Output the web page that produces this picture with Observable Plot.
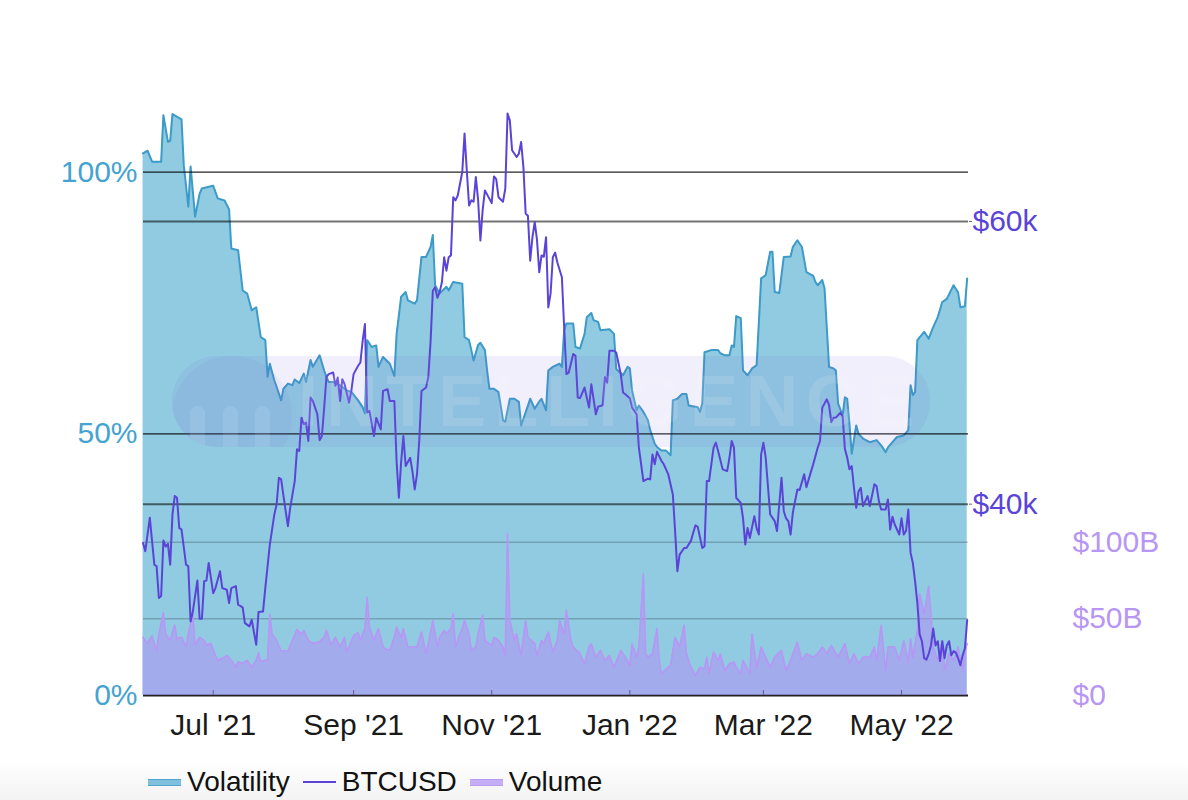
<!DOCTYPE html>
<html>
<head>
<meta charset="utf-8">
<script src="https://cdn.jsdelivr.net/npm/d3@7"></script>
<script src="https://cdn.jsdelivr.net/npm/@observablehq/plot@0.6"></script>
<style>
  html, body { margin: 0; padding: 0; background: #fff; overflow: hidden; }
  #wrap { position: relative; width: 1188px; height: 800px; font-family: "Liberation Sans", Arial, Helvetica, sans-serif; }
  #wrap svg { position: absolute; left: 0; top: 0; }
  #fade { position: absolute; left: 0; top: 760px; width: 1188px; height: 40px; background: linear-gradient(to bottom, #ffffff, #f3f3f3); }
  #legend { position: absolute; left: 148px; top: 767px; display: flex; align-items: center; font-size: 28px; line-height: 30px; color: #111; }
  #legend .item { display: flex; align-items: center; margin-right: 13px; }
  #legend .sw { width: 33px; margin-right: 6px; }
  #wm { position: absolute; left: 172px; top: 356px; width: 758px; height: 91px; border-radius: 45px; background: rgba(120,100,220,0.10); pointer-events: none; overflow: hidden; }
  #wm .circ { position: absolute; left: 0; top: 0; width: 120px; height: 120px; border-radius: 60px; background: rgba(120,100,220,0.06); }
  #wm .bar { position: absolute; top: 50px; width: 15px; height: 50px; border-radius: 8px; background: rgba(255,255,255,0.10); }
  #wm .txt { position: absolute; left: 126px; top: 9px; font-size: 72px; font-weight: bold; letter-spacing: 8px; color: rgba(255,255,255,0.12); line-height: 72px; }
</style>
</head>
<body>
<div id="wrap"><div id="fade"></div></div>
<script>
// ---------- data ----------
const volatility = [
["2021-05-31",103.6],["2021-06-02",104.1],["2021-06-04",102],["2021-06-08",102],["2021-06-09",110.9],["2021-06-11",105.8],["2021-06-12",106],["2021-06-13",111.1],["2021-06-17",110.1],["2021-06-18",101.3],["2021-06-20",93.4],["2021-06-21",101.1],["2021-06-23",91.5],["2021-06-25",95.9],["2021-06-26",96.9],["2021-06-30",97.3],["2021-07-01",97.4],["2021-07-03",95],["2021-07-06",94.6],["2021-07-08",92.9],["2021-07-09",85.4],["2021-07-12",85.1],["2021-07-14",77.4],["2021-07-16",76.8],["2021-07-18",73.6],["2021-07-20",74.2],["2021-07-22",68.5],["2021-07-24",67.9],["2021-07-25",60.9],["2021-07-26",63.4],["2021-07-28",60.2],["2021-07-29",59],["2021-07-31",56.4],["2021-08-01",58.6],["2021-08-03",59.6],["2021-08-05",59.3],["2021-08-06",60.4],["2021-08-08",59.7],["2021-08-10",61.5],["2021-08-11",59.9],["2021-08-13",64.1],["2021-08-14",62.8],["2021-08-17",65],["2021-08-19",62.1],["2021-08-20",60.9],["2021-08-21",59.9],["2021-08-23",59.9],["2021-08-26",59.3],["2021-08-29",58.3],["2021-08-31",58],["2021-09-03",56.4],["2021-09-05",55.1],["2021-09-06",53.9],["2021-09-07",67.9],["2021-09-09",66.6],["2021-09-11",66.9],["2021-09-12",62.8],["2021-09-14",64.7],["2021-09-17",63.4],["2021-09-19",61],["2021-09-20",69.1],["2021-09-22",76.2],["2021-09-24",77.1],["2021-09-25",75.5],["2021-09-28",74.9],["2021-09-29",75.5],["2021-10-01",83.8],["2021-10-03",83.8],["2021-10-05",85.7],["2021-10-06",88],["2021-10-07",78.4],["2021-10-09",76.8],["2021-10-12",78.1],["2021-10-13",77.4],["2021-10-15",79],["2021-10-19",78.7],["2021-10-20",68.5],["2021-10-22",67.9],["2021-10-23",66],["2021-10-24",64],["2021-10-26",67],["2021-10-27",67.4],["2021-10-29",66],["2021-10-30",62],["2021-10-31",58.6],["2021-11-02",58.6],["2021-11-04",58],["2021-11-06",52.6],["2021-11-07",52.3],["2021-11-09",56.7],["2021-11-11",56.7],["2021-11-13",56.1],["2021-11-14",51.6],["2021-11-17",55.4],["2021-11-18",56.7],["2021-11-20",54.8],["2021-11-22",56.2],["2021-11-23",56.7],["2021-11-25",54.5],["2021-11-26",62.1],["2021-11-28",62.8],["2021-12-01",63.4],["2021-12-02",62.8],["2021-12-03",69.8],["2021-12-04",71.1],["2021-12-07",71.1],["2021-12-08",66.6],["2021-12-10",66.3],["2021-12-12",69.1],["2021-12-13",72.3],["2021-12-15",73.1],["2021-12-16",71.7],["2021-12-18",71.4],["2021-12-19",69.8],["2021-12-23",70],["2021-12-25",69.1],["2021-12-26",62.4],["2021-12-29",61.2],["2021-12-31",62.8],["2022-01-01",62.5],["2022-01-02",58.3],["2022-01-04",54.5],["2022-01-05",55.4],["2022-01-07",54.2],["2022-01-09",52.6],["2022-01-10",50.7],["2022-01-12",48.1],["2022-01-13",47.5],["2022-01-15",46.8],["2022-01-17",46.8],["2022-01-19",45.9],["2022-01-20",56.4],["2022-01-22",56.7],["2022-01-24",57.6],["2022-01-26",57.6],["2022-01-27",55.4],["2022-01-31",55.1],["2022-02-01",54.2],["2022-02-02",55.8],["2022-02-03",65.6],["2022-02-06",66],["2022-02-09",66],["2022-02-10",65.4],["2022-02-12",65],["2022-02-14",65],["2022-02-15",66.9],["2022-02-16",66.6],["2022-02-17",72.5],["2022-02-19",72.1],["2022-02-20",62.1],["2022-02-22",61.2],["2022-02-24",62.5],["2022-02-26",63.1],["2022-02-28",79.7],["2022-03-02",80.3],["2022-03-04",84.8],["2022-03-05",84.8],["2022-03-06",77.1],["2022-03-08",76.9],["2022-03-10",83.8],["2022-03-13",83.9],["2022-03-14",85.7],["2022-03-16",87],["2022-03-18",85.7],["2022-03-20",80.9],["2022-03-23",80.2],["2022-03-24",79],["2022-03-25",78.4],["2022-03-27",79.4],["2022-03-28",77.8],["2022-03-30",62.8],["2022-04-01",62.5],["2022-04-02",62.1],["2022-04-03",55.8],["2022-04-05",53.5],["2022-04-06",57],["2022-04-07",56.7],["2022-04-08",51.9],["2022-04-09",46.2],["2022-04-11",51.6],["2022-04-12",50],["2022-04-14",49.1],["2022-04-17",48.4],["2022-04-20",48.8],["2022-04-22",47.8],["2022-04-24",46.5],["2022-04-25",47.4],["2022-04-27",48.4],["2022-04-29",49.4],["2022-05-02",49.7],["2022-05-04",50.7],["2022-05-05",59.3],["2022-05-06",57.4],["2022-05-07",58],["2022-05-08",67.9],["2022-05-11",69.5],["2022-05-13",68.2],["2022-05-15",70.4],["2022-05-17",72.3],["2022-05-19",75.2],["2022-05-21",75.8],["2022-05-24",78.4],["2022-05-26",77],["2022-05-27",74.2],["2022-05-29",74.4],["2022-05-30",79.7]
];

// BTCUSD price, thousands of dollars
const btcusd = [
["2021-05-31",37.25],["2021-06-01",36.67],["2021-06-03",39.03],["2021-06-05",35.72],["2021-06-06",35.6],["2021-06-07",33.36],["2021-06-08",33.5],["2021-06-09",37.43],["2021-06-10",37.0],["2021-06-11",37.19],["2021-06-12",35.72],["2021-06-13",39.27],["2021-06-14",40.57],["2021-06-15",40.45],["2021-06-16",38.32],["2021-06-17",38.2],["2021-06-19",35.72],["2021-06-20",35.6],["2021-06-21",31.7],["2021-06-22",32.41],["2021-06-24",34.59],["2021-06-25",31.89],["2021-06-26",31.89],["2021-06-27",34.54],["2021-06-28",34.59],["2021-06-29",35.84],["2021-07-01",33.71],["2021-07-02",34.06],["2021-07-04",35.25],["2021-07-05",34.06],["2021-07-07",33.94],["2021-07-08",33.0],["2021-07-09",34.06],["2021-07-11",34.2],["2021-07-12",32.89],["2021-07-14",32.7],["2021-07-15",31.58],["2021-07-17",31.35],["2021-07-18",31.82],["2021-07-20",30.05],["2021-07-21",32.36],["2021-07-23",32.4],["2021-07-24",34.06],["2021-07-26",37.14],["2021-07-28",39.27],["2021-07-29",39.98],["2021-07-30",41.87],["2021-07-31",41.75],["2021-08-02",39.5],["2021-08-03",38.44],["2021-08-04",39.74],["2021-08-06",41.63],["2021-08-07",43.88],["2021-08-08",43.76],["2021-08-09",46.12],["2021-08-10",45.65],["2021-08-11",45.77],["2021-08-12",44.47],["2021-08-13",47.54],["2021-08-14",47.3],["2021-08-16",46.36],["2021-08-17",44.52],["2021-08-18",44.82],["2021-08-19",46.8],["2021-08-20",49.0],["2021-08-21",49.2],["2021-08-23",49.31],["2021-08-24",48.37],["2021-08-25",48.96],["2021-08-26",47.3],["2021-08-27",48.84],["2021-08-28",48.5],["2021-08-30",47.18],["2021-08-31",48.01],["2021-09-01",49.2],["2021-09-03",49.79],["2021-09-04",50.02],["2021-09-05",51.56],["2021-09-06",52.74],["2021-09-07",46.48],["2021-09-08",46.6],["2021-09-10",44.82],["2021-09-11",46.1],["2021-09-13",45.29],["2021-09-14",48.01],["2021-09-16",48.13],["2021-09-17",47.3],["2021-09-19",47.3],["2021-09-20",43.0],["2021-09-21",40.45],["2021-09-22",43.0],["2021-09-23",44.82],["2021-09-24",42.7],["2021-09-26",43.28],["2021-09-27",42.3],["2021-09-28",41.04],["2021-09-29",42.1],["2021-09-30",44.5],["2021-10-01",48.0],["2021-10-03",48.25],["2021-10-04",49.0],["2021-10-05",51.5],["2021-10-06",55.1],["2021-10-07",55.34],["2021-10-08",54.6],["2021-10-09",55.0],["2021-10-10",55.7],["2021-10-11",57.47],["2021-10-12",56.52],["2021-10-13",57.47],["2021-10-14",57.6],["2021-10-15",61.72],["2021-10-16",61.49],["2021-10-17",61.84],["2021-10-19",63.5],["2021-10-20",66.22],["2021-10-21",63.6],["2021-10-22",61.13],["2021-10-23",61.5],["2021-10-24",61.4],["2021-10-25",63.14],["2021-10-26",61.5],["2021-10-27",58.65],["2021-10-28",60.8],["2021-10-29",62.2],["2021-10-30",61.9],["2021-10-31",61.6],["2021-11-01",61.3],["2021-11-02",63.19],["2021-11-03",63.0],["2021-11-04",61.72],["2021-11-06",61.4],["2021-11-07",62.32],["2021-11-08",67.64],["2021-11-09",67.16],["2021-11-10",65.04],["2021-11-12",64.56],["2021-11-13",64.8],["2021-11-14",65.62],["2021-11-15",63.85],["2021-11-16",60.55],["2021-11-17",60.4],["2021-11-18",57.23],["2021-11-19",58.89],["2021-11-20",59.95],["2021-11-21",58.7],["2021-11-22",56.4],["2021-11-23",57.6],["2021-11-24",57.5],["2021-11-25",58.89],["2021-11-26",53.92],["2021-11-27",54.9],["2021-11-28",57.47],["2021-11-29",57.8],["2021-11-30",57.1],["2021-12-02",56.05],["2021-12-03",52.5],["2021-12-04",49.2],["2021-12-05",49.3],["2021-12-07",50.62],["2021-12-08",50.5],["2021-12-09",47.54],["2021-12-10",47.5],["2021-12-12",48.25],["2021-12-14",46.83],["2021-12-15",48.49],["2021-12-17",46.36],["2021-12-18",46.9],["2021-12-20",47.0],["2021-12-21",49.0],["2021-12-22",48.6],["2021-12-23",50.85],["2021-12-25",50.85],["2021-12-26",50.73],["2021-12-28",49.2],["2021-12-29",47.9],["2021-12-30",47.78],["2022-01-01",47.5],["2022-01-02",46.83],["2022-01-04",46.36],["2022-01-05",44.0],["2022-01-06",42.82],["2022-01-07",41.63],["2022-01-09",41.8],["2022-01-10",41.75],["2022-01-11",43.52],["2022-01-12",42.82],["2022-01-13",43.7],["2022-01-15",43.05],["2022-01-16",42.82],["2022-01-18",42.1],["2022-01-20",40.68],["2022-01-21",38.09],["2022-01-22",35.25],["2022-01-23",36.43],["2022-01-25",36.9],["2022-01-26",36.9],["2022-01-28",37.4],["2022-01-29",37.97],["2022-01-30",38.5],["2022-01-31",38.4],["2022-02-02",36.9],["2022-02-03",37.02],["2022-02-04",41.63],["2022-02-05",41.63],["2022-02-07",44.0],["2022-02-08",44.35],["2022-02-09",43.76],["2022-02-11",42.46],["2022-02-13",42.34],["2022-02-14",43.28],["2022-02-15",44.47],["2022-02-16",44.0],["2022-02-17",40.45],["2022-02-19",40.09],["2022-02-20",39.0],["2022-02-21",37.14],["2022-02-22",38.32],["2022-02-23",37.6],["2022-02-25",39.15],["2022-02-26",38.3],["2022-02-27",37.85],["2022-02-28",43.52],["2022-03-01",44.35],["2022-03-02",43.3],["2022-03-04",39.27],["2022-03-06",38.8],["2022-03-07",38.09],["2022-03-09",41.87],["2022-03-10",39.5],["2022-03-11",39.0],["2022-03-12",38.8],["2022-03-13",37.85],["2022-03-14",39.4],["2022-03-16",41.04],["2022-03-17",41.0],["2022-03-19",42.11],["2022-03-20",41.2],["2022-03-22",42.3],["2022-03-23",42.82],["2022-03-25",44.0],["2022-03-26",44.47],["2022-03-27",46.83],["2022-03-29",47.42],["2022-03-30",47.0],["2022-03-31",45.8],["2022-04-01",46.12],["2022-04-02",46.12],["2022-04-04",46.48],["2022-04-05",46.2],["2022-04-06",43.9],["2022-04-07",43.3],["2022-04-08",42.46],["2022-04-09",42.7],["2022-04-10",41.16],["2022-04-11",39.74],["2022-04-12",40.9],["2022-04-13",41.16],["2022-04-14",39.86],["2022-04-16",40.57],["2022-04-17",39.86],["2022-04-19",41.4],["2022-04-20",41.28],["2022-04-21",40.22],["2022-04-22",39.62],["2022-04-24",39.62],["2022-04-25",40.33],["2022-04-26",38.2],["2022-04-27",39.1],["2022-04-28",38.56],["2022-04-30",37.85],["2022-05-01",39.0],["2022-05-02",37.85],["2022-05-03",38.1],["2022-05-04",39.62],["2022-05-05",36.55],["2022-05-06",35.84],["2022-05-07",34.54],["2022-05-08",33.0],["2022-05-09",30.8],["2022-05-10",30.3],["2022-05-11",29.1],["2022-05-12",29.0],["2022-05-13",29.4],["2022-05-14",30.0],["2022-05-15",31.2],["2022-05-16",30.0],["2022-05-17",30.3],["2022-05-18",28.9],["2022-05-19",30.3],["2022-05-20",29.1],["2022-05-21",30.0],["2022-05-22",30.3],["2022-05-23",29.3],["2022-05-24",29.6],["2022-05-25",29.5],["2022-05-26",29.1],["2022-05-27",28.6],["2022-05-28",29.3],["2022-05-29",29.8],["2022-05-30",31.8]
];

// Volume, billions of dollars
const volume = [
["2021-05-31",38],["2021-06-02",34],["2021-06-04",39],["2021-06-06",29],["2021-06-07",40],["2021-06-09",54],["2021-06-10",40],["2021-06-12",36],["2021-06-14",46],["2021-06-15",37],["2021-06-17",38],["2021-06-19",32],["2021-06-20",40],["2021-06-22",53],["2021-06-23",33],["2021-06-25",38],["2021-06-27",36],["2021-06-28",33],["2021-06-30",34],["2021-07-02",26],["2021-07-03",23],["2021-07-06",25],["2021-07-07",26],["2021-07-09",23],["2021-07-11",18.5],["2021-07-12",22],["2021-07-14",21],["2021-07-16",23],["2021-07-18",18.5],["2021-07-20",23],["2021-07-21",28],["2021-07-22",22],["2021-07-24",23],["2021-07-25",23],["2021-07-26",53],["2021-07-27",40],["2021-07-29",36],["2021-07-31",29],["2021-08-03",29],["2021-08-05",36],["2021-08-07",43],["2021-08-09",40],["2021-08-10",42.5],["2021-08-12",36],["2021-08-14",34],["2021-08-17",35],["2021-08-19",38],["2021-08-20",42.5],["2021-08-22",33],["2021-08-24",38],["2021-08-26",31.6],["2021-08-28",38],["2021-08-29",28],["2021-09-01",39],["2021-09-03",41],["2021-09-04",36],["2021-09-06",43.6],["2021-09-07",64],["2021-09-08",44.6],["2021-09-10",36],["2021-09-12",43.6],["2021-09-14",31.6],["2021-09-15",30.5],["2021-09-17",29.4],["2021-09-19",38],["2021-09-20",44.6],["2021-09-22",38],["2021-09-23",43.6],["2021-09-25",31.6],["2021-09-27",31.6],["2021-09-29",31.6],["2021-10-01",41.4],["2021-10-03",27.3],["2021-10-04",33.8],["2021-10-06",49],["2021-10-08",31.6],["2021-10-09",38],["2021-10-11",42.5],["2021-10-12",40.3],["2021-10-14",43.6],["2021-10-15",53.4],["2021-10-16",31.6],["2021-10-18",40.3],["2021-10-19",43.6],["2021-10-20",49],["2021-10-22",40.3],["2021-10-23",29.4],["2021-10-25",31.6],["2021-10-26",40.3],["2021-10-28",52.3],["2021-10-29",35.9],["2021-11-01",32.7],["2021-11-02",38],["2021-11-04",36],["2021-11-06",31.6],["2021-11-07",26],["2021-11-08",105.7],["2021-11-09",49],["2021-11-11",36],["2021-11-12",40.3],["2021-11-14",26],["2021-11-16",49],["2021-11-17",38],["2021-11-20",33.8],["2021-11-21",26],["2021-11-23",36],["2021-11-24",33.8],["2021-11-26",41.4],["2021-11-28",28.3],["2021-11-30",36],["2021-12-01",49],["2021-12-03",40.3],["2021-12-04",55.6],["2021-12-06",36],["2021-12-07",31.6],["2021-12-10",27.3],["2021-12-12",20.7],["2021-12-14",31.6],["2021-12-15",33.8],["2021-12-17",25],["2021-12-19",29.4],["2021-12-21",22.9],["2021-12-23",26.1],["2021-12-25",18.5],["2021-12-28",29.4],["2021-12-30",25],["2022-01-01",19.6],["2022-01-02",33.8],["2022-01-04",25],["2022-01-05",31.6],["2022-01-07",79.5],["2022-01-08",27.3],["2022-01-09",25],["2022-01-11",27.3],["2022-01-13",43.6],["2022-01-14",22.9],["2022-01-15",14.2],["2022-01-18",18.5],["2022-01-19",19.6],["2022-01-21",38],["2022-01-23",31.6],["2022-01-25",45.8],["2022-01-26",27.3],["2022-01-28",18.5],["2022-01-30",13.1],["2022-02-01",18.5],["2022-02-03",17.5],["2022-02-04",25],["2022-02-05",14.5],["2022-02-07",28.3],["2022-02-09",22.9],["2022-02-10",27],["2022-02-12",16.3],["2022-02-14",20.7],["2022-02-16",21.8],["2022-02-17",18.5],["2022-02-19",14.2],["2022-02-20",22.9],["2022-02-23",14.2],["2022-02-24",40.3],["2022-02-26",18.5],["2022-02-28",31.6],["2022-03-02",25],["2022-03-04",18.5],["2022-03-06",25],["2022-03-09",29.4],["2022-03-11",16.3],["2022-03-13",22.9],["2022-03-16",34.8],["2022-03-18",22.9],["2022-03-20",27.3],["2022-03-23",25],["2022-03-25",27.3],["2022-03-27",31.6],["2022-03-29",27.3],["2022-03-31",32.7],["2022-04-03",25],["2022-04-06",33.8],["2022-04-08",20.7],["2022-04-10",27.3],["2022-04-12",20.7],["2022-04-14",25],["2022-04-17",25],["2022-04-19",31.6],["2022-04-20",22.9],["2022-04-22",45.8],["2022-04-24",16.3],["2022-04-25",31.6],["2022-04-28",31.6],["2022-04-30",22.9],["2022-05-02",35.9],["2022-05-04",21.8],["2022-05-05",37],["2022-05-06",25],["2022-05-08",42.5],["2022-05-09",66.5],["2022-05-11",53.4],["2022-05-13",71.2],["2022-05-14",53.4],["2022-05-15",31.6],["2022-05-17",22.9],["2022-05-19",35.9],["2022-05-20",16.3],["2022-05-22",27.3],["2022-05-24",22.9],["2022-05-26",31.6],["2022-05-28",16.3],["2022-05-29",29.4],["2022-05-30",33.8]
];

const xTicks = ["2021-07-01","2021-09-01","2021-11-01","2022-01-01","2022-03-01","2022-05-01"];
const volTicks = [0, 50, 100];          // %
const btcTicks = [40, 60];              // $k
const volumeTicks = [0, 50, 100];       // $B
const legendItems = ["Volatility", "BTCUSD", "Volume"];

// ---------- layout ----------
const FONT = '"Liberation Sans", Arial, Helvetica, sans-serif';
const W = 1188, H = 745, ML = 143, MR = 220, MT = 100, MB = 50;
const xDomain = [new Date("2021-05-31T05:00Z"), new Date("2022-05-30T14:00Z")];
const toRows = arr => arr.map(([d, v]) => ({date: new Date(d + "T00:00Z"), v}));
const volRows = toRows(volatility), btcRows = toRows(btcusd), volumeRows = toRows(volume);
const tickDates = xTicks.map(d => new Date(d + "T00:00Z"));
const fmtX = d3.utcFormat("%b '%y");
const base = {width: W, height: H, marginLeft: ML, marginRight: MR, marginTop: MT, marginBottom: MB,
  style: {fontFamily: FONT, background: "transparent", overflow: "visible"}};

const C_VOL = "#3c9bc8", C_BTC = "#5a44d8", C_VOLU = "#b796f5";
const FS = 30;

const p1 = Plot.plot({
  ...base,
  x: {type: "utc", domain: xDomain},
  y: {domain: [0, 113.7]},
  marks: [
    Plot.areaY(volRows, {x: "date", y: "v", fill: "#91cbe1"}),
    Plot.lineY(volRows, {x: "date", y: "v", stroke: C_VOL, strokeWidth: 2}),
    Plot.gridY(volTicks.filter(t => t > 0), {stroke: "#000", strokeOpacity: 0.85, strokeWidth: 1.3}),
    Plot.axisY(volTicks, {tickSize: 0, tickPadding: 6, tickFormat: d => d + "%", fill: "#45a3d1", fontSize: FS, label: null}),
    Plot.axisX(tickDates, {tickSize: -5, tickFormat: () => "", stroke: "#222", label: null}),
    Plot.axisX(tickDates, {tickSize: 0, tickPadding: 18, tickFormat: fmtX, fill: "#1a1a1a", fontSize: FS, label: null}),
    Plot.ruleY([0], {stroke: "#222", strokeWidth: 2})
  ]
});

const p2 = Plot.plot({
  ...base,
  x: {type: "utc", domain: xDomain, axis: null},
  y: {domain: [0, 388.1], axis: null},
  marks: [
    Plot.gridY(volumeTicks.filter(t => t > 0), {stroke: "#000", strokeOpacity: 0.3, strokeWidth: 1}),
    Plot.areaY(volumeRows, {x: "date", y: "v", fill: "#b48cf8", fillOpacity: 0.5}),
    Plot.lineY(volumeRows, {x: "date", y: "v", stroke: C_VOLU, strokeWidth: 1.6}),
    Plot.axisY(volumeTicks, {anchor: "right", tickSize: 0, tickPadding: 104, tickFormat: d => d === 0 ? "$0" : "$" + d + "B", fill: C_VOLU, fontSize: FS, label: null})
  ]
});

const p3 = Plot.plot({
  ...base,
  x: {type: "utc", domain: xDomain, axis: null},
  y: {domain: [26.46, 68.56], axis: null},
  marks: [
    Plot.gridY(btcTicks, {stroke: "#000", strokeOpacity: 0.55, strokeWidth: 2}),
    Plot.lineY(btcRows, {x: "date", y: "v", stroke: C_BTC, strokeWidth: 2}),
    Plot.axisY(btcTicks, {anchor: "right", tickSize: 3, tickPadding: 1, tickFormat: d => "$" + d + "k", stroke: "#666", fill: C_BTC, fontSize: FS, label: null})
  ]
});

const wrap = document.getElementById("wrap");
wrap.appendChild(p1);
wrap.appendChild(p2);
wrap.appendChild(p3);

// watermark
const wm = document.createElement("div");
wm.id = "wm";
wm.innerHTML = '<div class="circ"></div><div class="bar" style="left:18px"></div><div class="bar" style="left:51px"></div><div class="bar" style="left:83px"></div><div class="txt">INTELLIGENCE</div>';
wrap.appendChild(wm);

// legend
const lg = document.createElement("div");
lg.id = "legend";
const sw = [
  'height:5px;background:#7fc0dc;border-top:1px solid #4ea6cf;border-bottom:1px solid #4ea6cf',
  'height:2px;background:' + C_BTC,
  'height:5px;background:#c5aef5;border-top:1px solid #b79cf2;border-bottom:1px solid #b79cf2'
];
legendItems.forEach((name, i) => {
  const it = document.createElement("div");
  it.className = "item";
  it.innerHTML = '<div class="sw" style="' + sw[i] + '"></div><span>' + name + '</span>';
  lg.appendChild(it);
});
wrap.appendChild(lg);
</script>
</body>
</html>
